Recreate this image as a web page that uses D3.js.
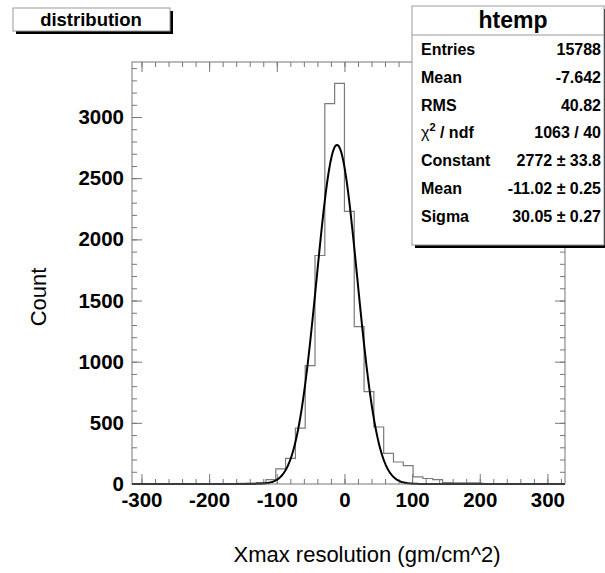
<!DOCTYPE html>
<html>
<head>
<meta charset="utf-8">
<script src="https://cdn.jsdelivr.net/npm/d3@7"></script>
<style>
  body { margin: 0; background: #fff; }
  svg { display: block; font-family: 'Liberation Sans', Arial, sans-serif; }
</style>
</head>
<body>
<div class="graph-area"><svg></svg></div>
<script>
// histogram bins: low edge of first bin, bin width, counts per bin
const binStart = -217.5
const binWidth = 14.5
const counts = [
  1, 2, 2, 3, 5, 8, 12, 35, 123, 210, 456, 968, 1868, 3110, 3275,
  2228, 1287, 755, 466, 251, 180, 150, 58, 45, 36, 12, 10, 10, 9, 3, 2, 1
]

// gaussian fit parameters (from the stats box)
const fitConstant = 2772
const fitMean = -11.02
const fitSigma = 30.05

// axis ranges and tick values
const xDomain = [-314, 326]
const yDomain = [0, 3450]
const xMajorTicks = [-300, -200, -100, 0, 100, 200, 300]
const yMajorTicks = [0, 500, 1000, 1500, 2000, 2500, 3000]

// stats box rows
const statsLabels = ['Entries', 'Mean', 'RMS', 'CHI2', 'Constant', 'Mean', 'Sigma']
const statsValues = ['15788', '-7.642', '40.82', '1063 / 40', '2772 \u00b1 33.8', '-11.02 \u00b1 0.25', '30.05 \u00b1 0.27']

const frame = { left: 132, right: 565, top: 62, bottom: 484 }
const frameColor = '#777'

const svg = d3.select('.graph-area').select('svg')
  .attr('width', 605)
  .attr('height', 573)

const xScale = d3.scaleLinear().domain(xDomain).range([frame.left, frame.right])
const yScale = d3.scaleLinear().domain(yDomain).range([frame.bottom, frame.top])

/**
 * Draws the four axes with ticks pointing into the frame.
 */
function drawAxes () {
  const xMinor = d3.range(-300, 321, 20)
  const yMinor = d3.range(0, 3401, 100)

  const axes = [
    { gen: d3.axisBottom, scale: xScale, pos: 'translate(0,' + frame.bottom + ')', minor: xMinor, major: xMajorTicks, labels: true },
    { gen: d3.axisTop, scale: xScale, pos: 'translate(0,' + frame.top + ')', minor: xMinor, major: xMajorTicks, labels: false },
    { gen: d3.axisLeft, scale: yScale, pos: 'translate(' + frame.left + ',0)', minor: yMinor, major: yMajorTicks, labels: true },
    { gen: d3.axisRight, scale: yScale, pos: 'translate(' + frame.right + ',0)', minor: yMinor, major: yMajorTicks, labels: false }
  ]

  axes.forEach(a => {
    const gMinor = svg.append('g')
      .attr('transform', a.pos)
      .call(a.gen(a.scale).tickValues(a.minor).tickSizeInner(-5).tickSizeOuter(0).tickFormat(''))
    gMinor.select('.domain').remove()
    gMinor.selectAll('line').attr('stroke', frameColor)

    const gMajor = svg.append('g')
      .attr('transform', a.pos)
      .call(a.gen(a.scale).tickValues(a.major).tickSizeInner(-10).tickSizeOuter(0).tickPadding(8)
        .tickFormat(a.labels ? d => String(d) : ''))
    gMajor.select('.domain').remove()
    gMajor.selectAll('line').attr('stroke', frameColor)
    gMajor.selectAll('text')
      .attr('fill', '#000')
      .attr('font-size', 20.5)
      .attr('font-weight', 'bold')
  })
}

/**
 * Draws the histogram outline and the gaussian fit.
 */
function drawData () {
  const pts = [[xDomain[0], 0], [binStart, 0]]
  counts.forEach((c, i) => {
    pts.push([binStart + i * binWidth, c])
    pts.push([binStart + (i + 1) * binWidth, c])
  })
  pts.push([binStart + counts.length * binWidth, 0])
  pts.push([xDomain[1], 0])

  const line = d3.line().x(d => xScale(d[0])).y(d => yScale(d[1]))

  svg.append('path')
    .attr('d', line(pts))
    .attr('fill', 'none')
    .attr('stroke', '#7a7a7a')
    .attr('stroke-width', 1.2)

  const fitPts = d3.range(xDomain[0], xDomain[1] + 0.1, 1)
    .map(x => [x, fitConstant * Math.exp(-0.5 * Math.pow((x - fitMean) / fitSigma, 2))])

  svg.append('path')
    .attr('d', line(fitPts))
    .attr('fill', 'none')
    .attr('stroke', '#000')
    .attr('stroke-width', 2)
}

/**
 * Draws the frame, axis titles, title box and stats box.
 */
function drawLabels () {
  svg.append('rect')
    .attr('x', frame.left)
    .attr('y', frame.top)
    .attr('width', frame.right - frame.left)
    .attr('height', frame.bottom - frame.top)
    .attr('fill', 'none')
    .attr('stroke', frameColor)

  svg.append('text')
    .text('Count')
    .attr('transform', 'translate(46,297) rotate(-90)')
    .attr('text-anchor', 'middle')
    .attr('font-size', 22)

  svg.append('text')
    .text('Xmax resolution (gm/cm^2)')
    .attr('x', 367)
    .attr('y', 562)
    .attr('text-anchor', 'middle')
    .attr('font-size', 22)

  // title box
  svg.append('rect').attr('x', 16).attr('y', 11).attr('width', 157).attr('height', 23).attr('fill', '#000')
  svg.append('rect').attr('x', 13).attr('y', 8).attr('width', 157).attr('height', 23)
    .attr('fill', '#fff').attr('stroke', '#999')
  svg.append('text')
    .text('distribution')
    .attr('x', 91)
    .attr('y', 26)
    .attr('text-anchor', 'middle')
    .attr('font-size', 18.5)
    .attr('font-weight', 'bold')

  // stats box
  const box = { x: 412, y: 6, w: 192, h: 239 }
  svg.append('rect').attr('x', box.x + 3).attr('y', box.y + 3).attr('width', box.w).attr('height', box.h).attr('fill', '#000')
  svg.append('rect').attr('x', box.x).attr('y', box.y).attr('width', box.w).attr('height', box.h)
    .attr('fill', '#fff').attr('stroke', '#999')
  svg.append('line')
    .attr('x1', box.x).attr('x2', box.x + box.w)
    .attr('y1', 35).attr('y2', 35)
    .attr('stroke', '#999')
  svg.append('text')
    .text('htemp')
    .attr('x', 513)
    .attr('y', 28)
    .attr('text-anchor', 'middle')
    .attr('font-size', 23)
    .attr('font-weight', 'bold')

  statsLabels.forEach((lab, i) => {
    const y = 55 + i * 27.8
    const t = svg.append('text')
      .attr('x', 421)
      .attr('y', y)
      .attr('font-size', 16)
      .attr('font-weight', 'bold')
    if (lab === 'CHI2') {
      t.append('tspan').text('\u03c7').attr('font-weight', 'normal')
      t.append('tspan').text('2').attr('dy', -7).attr('font-size', 11)
      t.append('tspan').text(' / ndf').attr('dy', 7)
    } else {
      t.text(lab)
    }
    svg.append('text')
      .text(statsValues[i])
      .attr('x', 601)
      .attr('y', y)
      .attr('text-anchor', 'end')
      .attr('font-size', 16)
      .attr('font-weight', 'bold')
  })
}

drawAxes()
drawData()
drawLabels()
</script>
</body>
</html>
